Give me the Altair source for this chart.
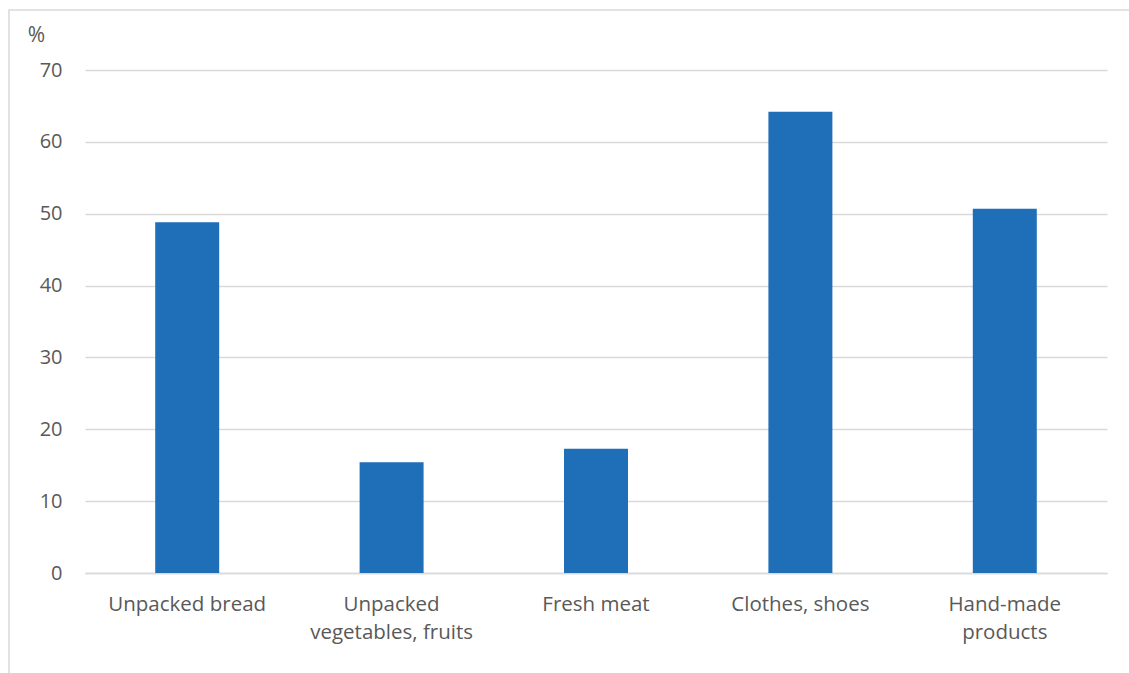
import altair as alt
import pandas as pd

categories = ["Unpacked bread", "Unpacked vegetables, fruits", "Fresh meat", "Clothes, shoes", "Hand-made products"]
values = [48.8, 15.4, 17.3, 64.2, 50.7]
y_ticks = [0, 10, 20, 30, 40, 50, 60, 70]

df = pd.DataFrame({"category": categories, "value": values})

FONT = "Open Sans"
GRAY = "#595959"

label_expr = ("datum.label == 'Unpacked vegetables, fruits' ? ['Unpacked', 'vegetables, fruits'] : "
              "datum.label == 'Hand-made products' ? ['Hand-made', 'products'] : datum.label")

bars = alt.Chart(df).mark_bar(color="#1F6EB8").encode(
    x=alt.X("category:N", sort=categories,
            scale=alt.Scale(paddingInner=0.687, paddingOuter=0.3435),
            axis=alt.Axis(title=None, labelAngle=0, labelExpr=label_expr, labelFont=FONT,
                          labelFontSize=20.5, labelColor=GRAY, labelPadding=21, labelLineHeight=28,
                          ticks=False, domainColor="#d9d9d9", domainWidth=1.3, labelBaseline="top")),
    y=alt.Y("value:Q", scale=alt.Scale(domain=[0, 70], nice=False),
            axis=alt.Axis(values=y_ticks, title="%", titleAngle=0, titleX=-49, titleY=-35,
                          titleAlign="center", titleBaseline="middle", titleFont=FONT,
                          titleFontSize=21, titleFontWeight="normal", titleColor=GRAY,
                          labelFont=FONT, labelFontSize=20, labelColor=GRAY, labelPadding=23,
                          ticks=False, domain=False, gridColor="#d9d9d9", gridWidth=1.3)),
)

border = alt.Chart(pd.DataFrame({"a": [0]})).mark_rect(fill=None, stroke="#d9d9d9", strokeWidth=1.5).encode(
    x=alt.value(-76), x2=alt.value(1060), y=alt.value(-60), y2=alt.value(620)
)

chart = alt.layer(border, bars).properties(
    width=1022, height=503,
    autosize=alt.AutoSizeParams(type="none"),
    padding={"left": 85, "top": 70, "right": 22, "bottom": 100},
).configure(background="white", view=alt.ViewConfig(stroke=None))

chart.save("out.html", embed_options={"renderer": "svg", "actions": False})
